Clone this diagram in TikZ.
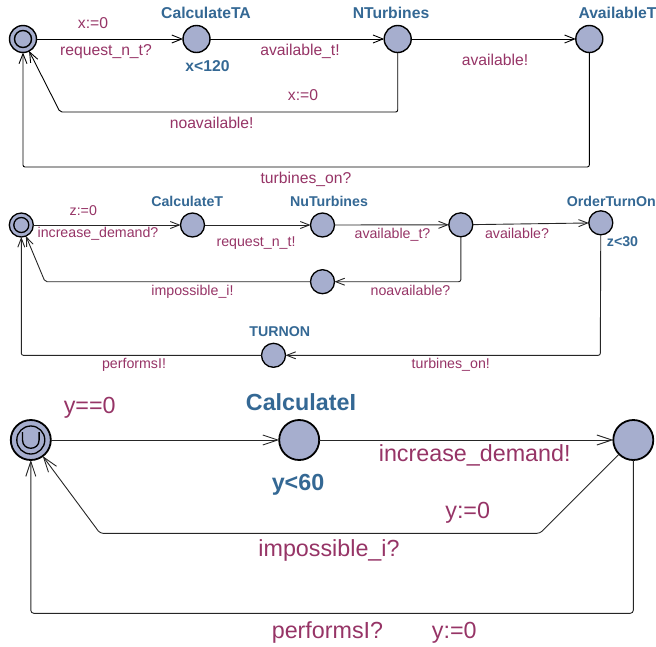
\documentclass[tikz,border=0pt]{standalone}
\usepackage{fontspec}
\setmainfont{Liberation Sans}
\usetikzlibrary{arrows.meta}

\definecolor{locfill}{RGB}{166,174,206}
\definecolor{namec}{RGB}{52,104,148}
\definecolor{syncc}{RGB}{150,52,102}

\tikzset{
  x=1pt, y=-1pt,
  loc/.style={circle, draw=black, fill=locfill, inner sep=0pt, outer sep=0pt},
  locA/.style={loc, line width=1.4pt, minimum size=27pt},
  locB/.style={loc, line width=1.3pt, minimum size=24pt},
  locC/.style={loc, line width=1.8pt, minimum size=40pt},
  edgeA/.style={draw, line width=0.9pt, rounded corners=2pt,
    -{Straight Barb[length=10pt,width=8pt,line width=0.9pt]}},
  edgeB/.style={draw, line width=0.9pt, rounded corners=2pt, draw=black!85,
    -{Straight Barb[length=9pt,width=7pt,line width=0.9pt]}},
  edgeC/.style={draw, line width=0.9pt, rounded corners=3pt, draw=black!85,
    -{Straight Barb[length=15pt,width=10pt,line width=0.9pt]}},
  txt/.style={anchor=base, inner sep=0pt},
  labA/.style={txt, text=syncc, font=\fontsize{15.7}{18}\selectfont},
  nameA/.style={txt, text=namec, font=\fontsize{15.7}{18}\selectfont\bfseries},
  labB/.style={txt, text=syncc, font=\fontsize{14.2}{17}\selectfont},
  nameB/.style={txt, text=namec, font=\fontsize{14.2}{17}\selectfont\bfseries},
  labC/.style={txt, text=syncc, font=\fontsize{23.3}{27}\selectfont},
  nameC/.style={txt, text=namec, font=\fontsize{23.3}{27}\selectfont\bfseries},
}

\begin{document}
\begin{tikzpicture}
\useasboundingbox (0,0) rectangle (656,646);

% ---------- turbine availability automaton ----------
\node[locA] (a0) at (23,39) {};
\draw[line width=1.4pt] (a0.center) circle[radius=8.5];
\node[locA] (a1) at (196.5,39) {};
\node[locA] (a2) at (397.7,39) {};
\node[locA] (a3) at (589.3,39) {};

\coordinate (a2d) at (397.7,112);
\coordinate (a2l) at (60,112);
\coordinate (a3d) at (589.3,167);
\coordinate (a3l) at (23,167);

\draw[edgeA] (a0) -- (a1);
\draw[edgeA] (a1) -- (a2);
\draw[edgeA] (a2) -- (a3);
\draw[edgeA] (a2) -- (a2d) -- (a2l) -- (a0);
\draw[edgeA] (a3) -- (a3d) -- (a3l) -- (a0);

\node[nameA] (nA1) at (206,18.3) {CalculateTA};
\node[nameA] (iA1) at (207.5,71.5) {x<120};
\node[nameA] (nA2) at (391,18.3) {NTurbines};
\node[nameA, anchor=base west] (nA3) at (578.3,18.3) {AvailableT};

\node[labA] (lA1) at (93,28.3) {x:=0};
\node[labA] (lA2) at (106,55) {request\_n\_t?};
\node[labA] (lA3) at (300,55) {available\_t!};
\node[labA] (lA4) at (495,65) {available!};
\node[labA] (lA5) at (303,100) {x:=0};
\node[labA] (lA6) at (211.7,128.3) {noavailable!};
\node[labA] (lA7) at (306,183.5) {turbines\_on?};

% ---------- demand handling automaton ----------
\node[locB] (b0) at (21.3,225) {};
\draw[line width=1.3pt] (b0.center) circle[radius=7.5];
\node[locB] (b1) at (192.5,225) {};
\node[locB] (b2) at (322.5,225) {};
\node[locB] (b3) at (460.8,224.8) {};
\node[locB] (b4) at (600.8,222.8) {};
\node[locB] (b5) at (322.5,281.7) {};
\node[locB] (b6) at (273.5,355.3) {};

\coordinate (b3d) at (460.8,281.7);
\coordinate (b5l) at (45,281.7);
\coordinate (b4d) at (600.3,355.3);
\coordinate (b6l) at (21.3,355.3);

\draw[edgeB] (b0) -- (b1);
\draw[edgeB] (b1) -- (b2);
\draw[edgeB] (b2) -- (b3);
\draw[edgeB] (b3) -- (b4);
\draw[edgeB] (b3) -- (b3d) -- (b5);
\draw[edgeB] (b5) -- (b5l) -- (b0);
\draw[edgeB] (b4) -- (b4d) -- (b6);
\draw[edgeB] (b6) -- (b6l) -- (b0);

\node[nameB] (nB1) at (187.2,206.7) {CalculateT};
\node[nameB] (nB2) at (329,206.7) {NuTurbines};
\node[nameB, anchor=base west] (nB4) at (566.7,206.7) {OrderTurnOn};
\node[nameB] (iB4) at (622.5,246) {z<30};
\node[nameB] (nB6) at (279.7,336.7) {TURNON};

\node[labB] (lB1) at (83.3,215) {z:=0};
\node[labB] (lB2) at (98,237.3) {increase\_demand?};
\node[labB] (lB3) at (256,246) {request\_n\_t!};
\node[labB] (lB4) at (392.5,238.3) {available\_t?};
\node[labB] (lB5) at (517,238.3) {available?};
\node[labB] (lB6) at (410.5,295) {noavailable?};
\node[labB] (lB7) at (192.5,295) {impossible\_i!};
\node[labB] (lB8) at (450.8,368.3) {turbines\_on!};
\node[labB] (lB9) at (134,368.3) {performsI!};

% ---------- increase request automaton ----------
\node[locC] (c0) at (30.8,440) {};
\draw[line width=1.3pt] (c0.center) circle[radius=14];
\draw[line width=1.3pt] (22.5,432) -- (22.5,440)
  .. controls (22.5,451) and (39.1,451) .. (39.1,440) -- (39.1,432);
\node[locC] (c1) at (299.2,440) {};
\node[locC] (c2) at (633.3,440) {};

\coordinate (c2m) at (540,533.3);
\coordinate (c2l) at (100,533.3);
\coordinate (c2d) at (633.3,613.3);
\coordinate (c2b) at (30.8,613.3);

\draw[edgeC] (c0) -- (c1);
\draw[edgeC] (c1) -- (c2);
\draw[edgeC] (c2) -- (c2m) -- (c2l) -- (c0);
\draw[edgeC] (c2) -- (c2d) -- (c2b) -- (c0);

\node[nameC] (nC1) at (301,410) {CalculateI};
\node[nameC] (iC1) at (298,490) {y<60};

\node[labC] (lC1) at (89.7,413.3) {y==0};
\node[labC] (lC2) at (474.7,461.7) {increase\_demand!};
\node[labC] (lC3) at (467.7,518.3) {y:=0};
\node[labC] (lC4) at (329,556) {impossible\_i?};
\node[labC] (lC5) at (327.5,638.3) {performsI?};
\node[labC] (lC6) at (454.3,638.3) {y:=0};

\end{tikzpicture}
\end{document}
